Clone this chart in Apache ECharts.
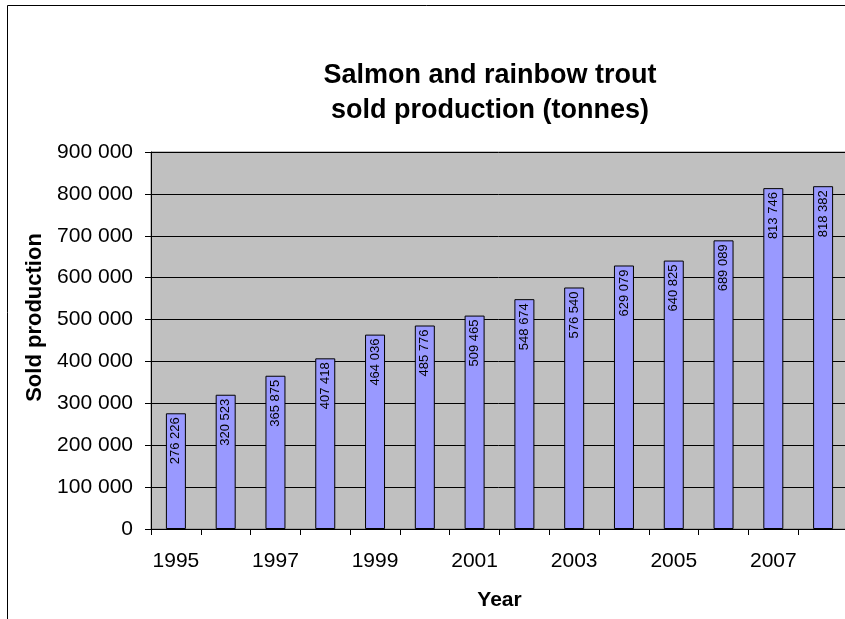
<!DOCTYPE html>
<html>
<head>
<meta charset="utf-8">
<title>Salmon and rainbow trout sold production</title>
<script src="https://cdn.jsdelivr.net/npm/echarts@6/dist/echarts.min.js"></script>
<style>
  html, body { margin: 0; padding: 0; background: #fff; }
  #main { width: 845px; height: 619px; }
</style>
</head>
<body>
<div id="main"></div>
<script>
  // data
  var years = ['1995', '1996', '1997', '1998', '1999', '2000', '2001',
               '2002', '2003', '2004', '2005', '2006', '2007', '2008'];
  var soldProduction = [276226, 320523, 365875, 407418, 464036, 485776, 509465,
                        548674, 576540, 629079, 640825, 689089, 813746, 818382];
  var yMin = 0;
  var yMax = 900000;
  var yStep = 100000;

  var font = '"Liberation Sans", Arial, sans-serif';

  // 900000 -> "900 000"
  function spaced(v) {
    return String(v).replace(/\B(?=(\d{3})+(?!\d))/g, ' ');
  }

  var chart = echarts.init(document.getElementById('main'));
  chart.setOption({
    animation: false,
    textStyle: { fontFamily: font },
    title: {
      text: 'Salmon and rainbow trout\nsold production (tonnes)',
      left: 485,
      top: 53,
      textAlign: 'center',
      textStyle: {
        fontFamily: font,
        fontSize: 27,
        fontWeight: 'bold',
        color: '#000',
        lineHeight: 35
      }
    },
    graphic: [{
      type: 'rect',
      z: -10,
      shape: { x: 7.5, y: 5.5, width: 900, height: 700 },
      style: { fill: 'none', stroke: '#000', lineWidth: 1 }
    }],
    grid: {
      left: 151,
      top: 152,
      right: -3,
      bottom: 90,
      outerBoundsMode: 'none',
      show: true,
      backgroundColor: '#C0C0C0',
      borderColor: '#808080',
      borderWidth: 1
    },
    xAxis: {
      type: 'category',
      data: years,
      name: 'Year',
      nameLocation: 'middle',
      nameGap: 61,
      nameTextStyle: { fontFamily: font, fontSize: 21, fontWeight: 'bold', color: '#000' },
      axisLine: { lineStyle: { color: '#000', width: 1 } },
      axisTick: { show: true, interval: 0, length: 6, lineStyle: { color: '#000' } },
      axisLabel: { interval: 1, margin: 22, fontSize: 21, color: '#000', fontFamily: font },
      splitLine: { show: false }
    },
    yAxis: {
      type: 'value',
      min: yMin,
      max: yMax,
      interval: yStep,
      name: 'Sold production',
      nameLocation: 'middle',
      nameGap: 104,
      nameTextStyle: {
        fontFamily: font, fontSize: 22, fontWeight: 'bold', color: '#000',
        padding: [0, 0, 0, 46]
      },
      axisLine: { show: true, lineStyle: { color: '#000', width: 1 } },
      axisTick: { show: true, length: 6, lineStyle: { color: '#000' } },
      axisLabel: { margin: 18, fontSize: 21, color: '#000', fontFamily: font, formatter: spaced },
      splitLine: { show: true, lineStyle: { color: '#000', width: 1 } }
    },
    series: [{
      type: 'bar',
      data: soldProduction,
      barWidth: 20,
      itemStyle: { color: '#9999FF', borderColor: '#000', borderWidth: 1 },
      label: {
        show: true,
        position: 'insideTop',
        rotate: 90,
        align: 'right',
        verticalAlign: 'middle',
        distance: 4,
        fontSize: 13,
        color: '#000',
        fontFamily: font,
        formatter: function (p) { return spaced(p.value); }
      }
    }]
  });
</script>
</body>
</html>
